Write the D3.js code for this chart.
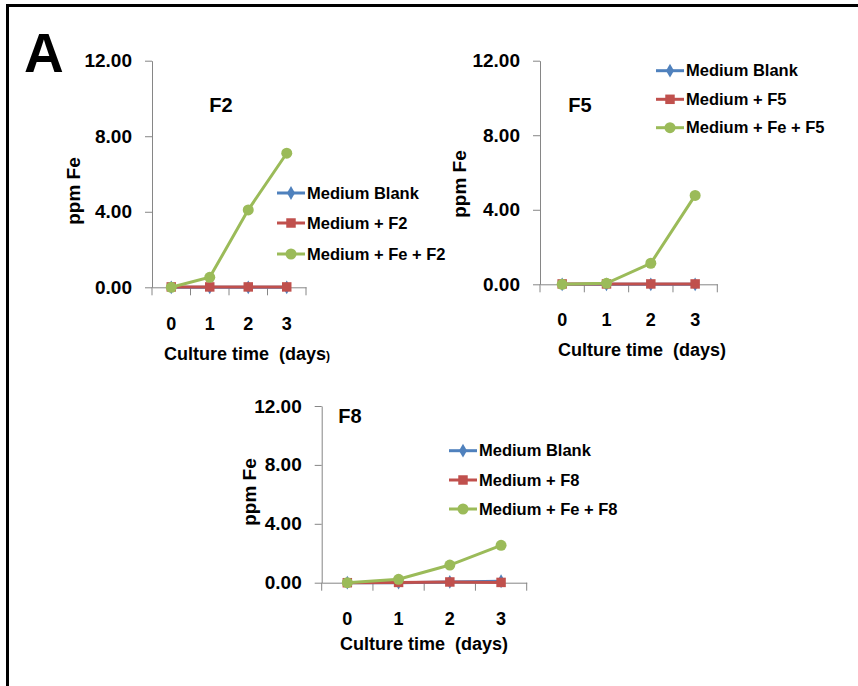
<!DOCTYPE html>
<html>
<head>
<meta charset="utf-8">
<script src="https://cdn.jsdelivr.net/npm/d3@7"></script>
<style>
  html, body { margin: 0; padding: 0; background: #fff; }
  text { font-family: "Liberation Sans", Arial, sans-serif; font-weight: bold; fill: #000; }
</style>
</head>
<body>
<div id="chart"></div>
<script>
// culture days and y ticks
var days = ["0", "1", "2", "3"];
var yTicks = [0, 4, 8, 12];

// ppm Fe
var blankF2 = [0, 0, 0, 0];
var mediumF2 = [0.02, 0.02, 0.02, 0.02];
var feF2 = [0, 0.53, 4.1, 7.1];

var blankF5 = [0, 0, 0, 0];
var mediumF5 = [0.02, 0.02, 0.02, 0.02];
var feF5 = [0, 0.05, 1.13, 4.77];

var blankF8 = [0, 0, 0.05, 0.1];
var mediumF8 = [0, 0.02, 0.05, 0.02];
var feF8 = [0, 0.23, 1.2, 2.54];

var seriesNames = ["Medium Blank", "Medium + ", "Medium + Fe + "];
var colors = ["#4F81BD", "#C0504D", "#9BBB59"];
var shapes = ["diamond", "square", "circle"];

function init() {
  var w = 858, h = 686;
  var svg = d3.select("#chart").append("svg")
    .attr("width", w)
    .attr("height", h);

  // frame (top and left only)
  svg.append("path")
    .attr("d", "M7.5,686 L7.5,5.5 L858,5.5")
    .attr("fill", "none")
    .attr("stroke", "#000")
    .attr("stroke-width", 3);

  svg.append("text")
    .attr("x", 24)
    .attr("y", 72)
    .attr("font-size", "55px")
    .text("A");

  var panels = [
    { name: "F2", data: [blankF2, mediumF2, feF2],
      left: 152, right: 306, top: 60.7, bottom: 287.3,
      title: [221, 112], ylab: [73, 191], xlab: [247, 360], tickPad: 30,
      leg: { x: 277, ys: [193, 223, 254] }, smallParen: true },
    { name: "F5", data: [blankF5, mediumF5, feF5],
      left: 540, right: 717.3, top: 60.7, bottom: 284.3,
      title: [580, 112], ylab: [459, 184], xlab: [642, 356], tickPad: 29,
      leg: { x: 656, ys: [70.7, 99.3, 127.7] } },
    { name: "F8", data: [blankF8, mediumF8, feF8],
      left: 321.7, right: 526.7, top: 406, bottom: 582.7,
      title: [350, 423], ylab: [249, 492], xlab: [424, 650], tickPad: 30,
      leg: { x: 449, ys: [450.7, 480, 509] } }
  ];

  panels.forEach(function(p) {
    var x = d3.scaleBand().domain(days).range([p.left, p.right]);
    var xEdges = d3.scaleLinear().domain([0, days.length]).range([p.left, p.right]);
    var y = d3.scaleLinear().domain([0, 12]).range([p.bottom, p.top]);

    var g = svg.append("g");

    // y axis
    var yAxis = g.append("g")
      .attr("transform", "translate(" + p.left + ",0)")
      .call(d3.axisLeft(y).tickValues(yTicks).tickFormat(d3.format(".2f"))
        .tickSizeInner(7).tickSizeOuter(0).tickPadding(13));
    yAxis.selectAll("text").attr("font-size", "19px").attr("font-family", null).attr("fill", "#000");
    yAxis.selectAll("line").attr("stroke", "#868686");
    yAxis.select(".domain").attr("stroke", "#868686");

    // x axis: labels at band centres, ticks at band edges
    var xAxis = g.append("g")
      .attr("transform", "translate(0," + p.bottom + ")")
      .call(d3.axisBottom(x).tickSize(0).tickPadding(p.tickPad));
    xAxis.selectAll("text").attr("font-size", "18px").attr("font-family", null).attr("fill", "#000");
    xAxis.select(".domain").attr("stroke", "#868686");

    g.append("g").selectAll("line")
      .data(d3.range(days.length + 1))
      .enter().append("line")
      .attr("x1", function(d) { return xEdges(d); })
      .attr("x2", function(d) { return xEdges(d); })
      .attr("y1", p.bottom)
      .attr("y2", p.bottom + 8)
      .attr("stroke", "#868686");

    // series
    var line = d3.line()
      .x(function(d, i) { return x(days[i]) + x.bandwidth() / 2; })
      .y(function(d) { return y(d); });

    p.data.forEach(function(vals, si) {
      g.append("path")
        .attr("d", line(vals))
        .attr("fill", "none")
        .attr("stroke", colors[si])
        .attr("stroke-width", 3);
      g.selectAll(null)
        .data(vals)
        .enter().append("path")
        .attr("d", markerPath(shapes[si]))
        .attr("transform", function(d, i) {
          return "translate(" + (x(days[i]) + x.bandwidth() / 2) + "," + y(d) + ")";
        })
        .attr("fill", colors[si]);
    });

    // title
    g.append("text")
      .attr("x", p.title[0])
      .attr("y", p.title[1])
      .attr("text-anchor", "middle")
      .attr("font-size", "20px")
      .text(p.name);

    // y label
    g.append("text")
      .attr("transform", "translate(" + p.ylab[0] + "," + p.ylab[1] + ") rotate(-90)")
      .attr("text-anchor", "middle")
      .attr("dy", "0.35em")
      .attr("font-size", "19px")
      .text("ppm Fe");

    // x label
    var xl = g.append("text")
      .attr("x", p.xlab[0])
      .attr("y", p.xlab[1])
      .attr("text-anchor", "middle")
      .attr("font-size", "18px")
      .style("white-space", "pre");
    if (p.smallParen) {
      xl.append("tspan").text("Culture time  (days");
      xl.append("tspan").attr("font-size", "12px").text(")");
    } else {
      xl.text("Culture time  (days)");
    }

    // legend
    var leg = g.append("g");
    p.leg.ys.forEach(function(ly, si) {
      leg.append("line")
        .attr("x1", p.leg.x).attr("x2", p.leg.x + 28)
        .attr("y1", ly).attr("y2", ly)
        .attr("stroke", colors[si])
        .attr("stroke-width", 3);
      leg.append("path")
        .attr("d", markerPath(shapes[si]))
        .attr("transform", "translate(" + (p.leg.x + 14) + "," + ly + ")")
        .attr("fill", colors[si]);
      leg.append("text")
        .attr("x", p.leg.x + 30)
        .attr("y", ly)
        .attr("dy", "0.35em")
        .attr("font-size", "16.5px")
        .text(si === 0 ? seriesNames[0] : seriesNames[si] + p.name);
    });
  });
}

function markerPath(shape) {
  if (shape === "square") return d3.symbol().type(d3.symbolSquare).size(90)();
  if (shape === "circle") return d3.symbol().type(d3.symbolCircle).size(95)();
  return d3.symbol().type(d3.symbolDiamond).size(55)();
}

window.onload = init;
</script>
</body>
</html>
